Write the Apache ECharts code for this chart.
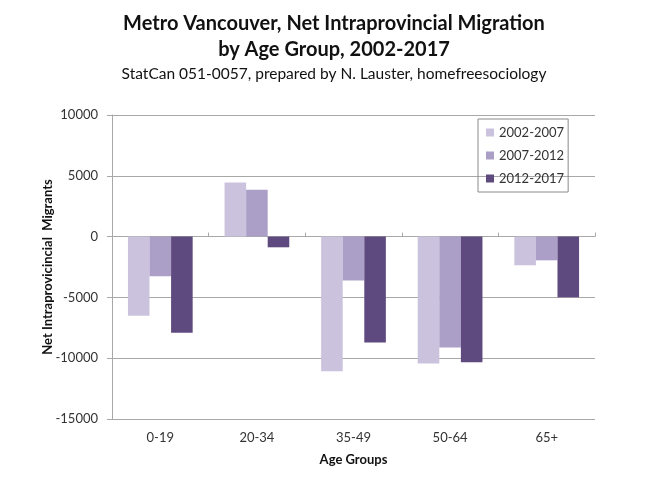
<!DOCTYPE html>
<html><head><meta charset="utf-8">
<script src="https://cdn.jsdelivr.net/npm/echarts@6/dist/echarts.min.js"></script>
<style>html,body{margin:0;padding:0;background:#fff}#c{width:656px;height:492px}</style>
</head><body><div id="c"></div>
<script>
const categories = ['0-19', '20-34', '35-49', '50-64', '65+'];
const seriesNames = ['2002-2007', '2007-2012', '2012-2017'];
const p2002_2007 = [-6500, 4440, -11070, -10440, -2360];
const p2007_2012 = [-3260, 3860, -3620, -9120, -1950];
const p2012_2017 = [-7900, -880, -8710, -10330, -4990];
const yTicks = [-15000, -10000, -5000, 0, 5000, 10000];
const colors = ['#cbc3dd', '#ab9fc8', '#5f4a7f'];
const FONT = 'Lato';

const chart = echarts.init(document.getElementById('c'), null, {renderer: 'canvas'});
const values = [p2002_2007, p2007_2012, p2012_2017];
chart.setOption({
  animation: false,
  backgroundColor: '#fff',
  graphic: [{
    type: 'text', x: 334, y: 14,
    style: {text: 'Metro Vancouver, Net Intraprovincial Migration', align: 'center', verticalAlign: 'top',
      font: 'bold 20px Lato', fill: '#111'}
  }, {
    type: 'text', x: 334, y: 40,
    style: {text: 'by Age Group, 2002-2017', align: 'center', verticalAlign: 'top',
      font: 'bold 20px Lato', fill: '#111'}
  }, {
    type: 'text', x: 334, y: 66,
    style: {text: 'StatCan 051-0057, prepared by N. Lauster, homefreesociology', align: 'center', verticalAlign: 'top',
      font: '15.5px Lato', fill: '#111'}
  }],
  legend: {
    orient: 'vertical', left: 478, top: 119,
    data: seriesNames,
    icon: 'rect', itemWidth: 8, itemHeight: 8, itemGap: 10,
    itemStyle: {borderWidth: 0},
    padding: [7, 4, 7, 8],
    borderColor: '#8a8a8a', borderWidth: 1,
    textStyle: {fontFamily: FONT, fontSize: 13, color: '#333'}
  },
  grid: {left: 112, right: 61, top: 115, bottom: 73, containLabel: false},
  xAxis: [{
    type: 'category', data: categories, position: 'bottom',
    axisLine: {show: false, onZero: false},
    axisTick: {show: false},
    axisLabel: {fontFamily: FONT, fontSize: 13, color: '#333', margin: 12},
    name: 'Age Groups', nameLocation: 'middle', nameGap: 34,
    nameTextStyle: {fontFamily: FONT, fontSize: 13, fontWeight: 'bold', color: '#111'}
  }, {
    type: 'category', data: categories, position: 'bottom',
    axisLine: {show: true, onZero: true, lineStyle: {color: '#a8a8a8', width: 1}},
    axisTick: {show: true, inside: true, length: 4, lineStyle: {color: '#a8a8a8'}},
    axisLabel: {show: false}
  }],
  yAxis: {
    type: 'value', min: yTicks[0], max: yTicks[yTicks.length - 1], interval: 5000,
    axisLine: {show: true, lineStyle: {color: '#a8a8a8'}},
    axisTick: {show: true, length: 5, lineStyle: {color: '#a8a8a8'}},
    splitLine: {show: true, lineStyle: {color: '#a8a8a8', width: 1}},
    axisLabel: {fontFamily: FONT, fontSize: 13, color: '#333', margin: 14, formatter: v => String(v)},
    name: 'Net Intraprovicincial  Migrants', nameLocation: 'middle', nameGap: 58, nameMoveOverlap: false,
    nameTextStyle: {fontFamily: FONT, fontSize: 13, fontWeight: 'bold', color: '#111'}
  },
  series: seriesNames.map((n, i) => ({
    name: n, type: 'bar', data: values[i], xAxisIndex: 0,
    barGap: '0%', barCategoryGap: '33%',
    itemStyle: {color: colors[i]}
  }))
});
</script></body></html>
